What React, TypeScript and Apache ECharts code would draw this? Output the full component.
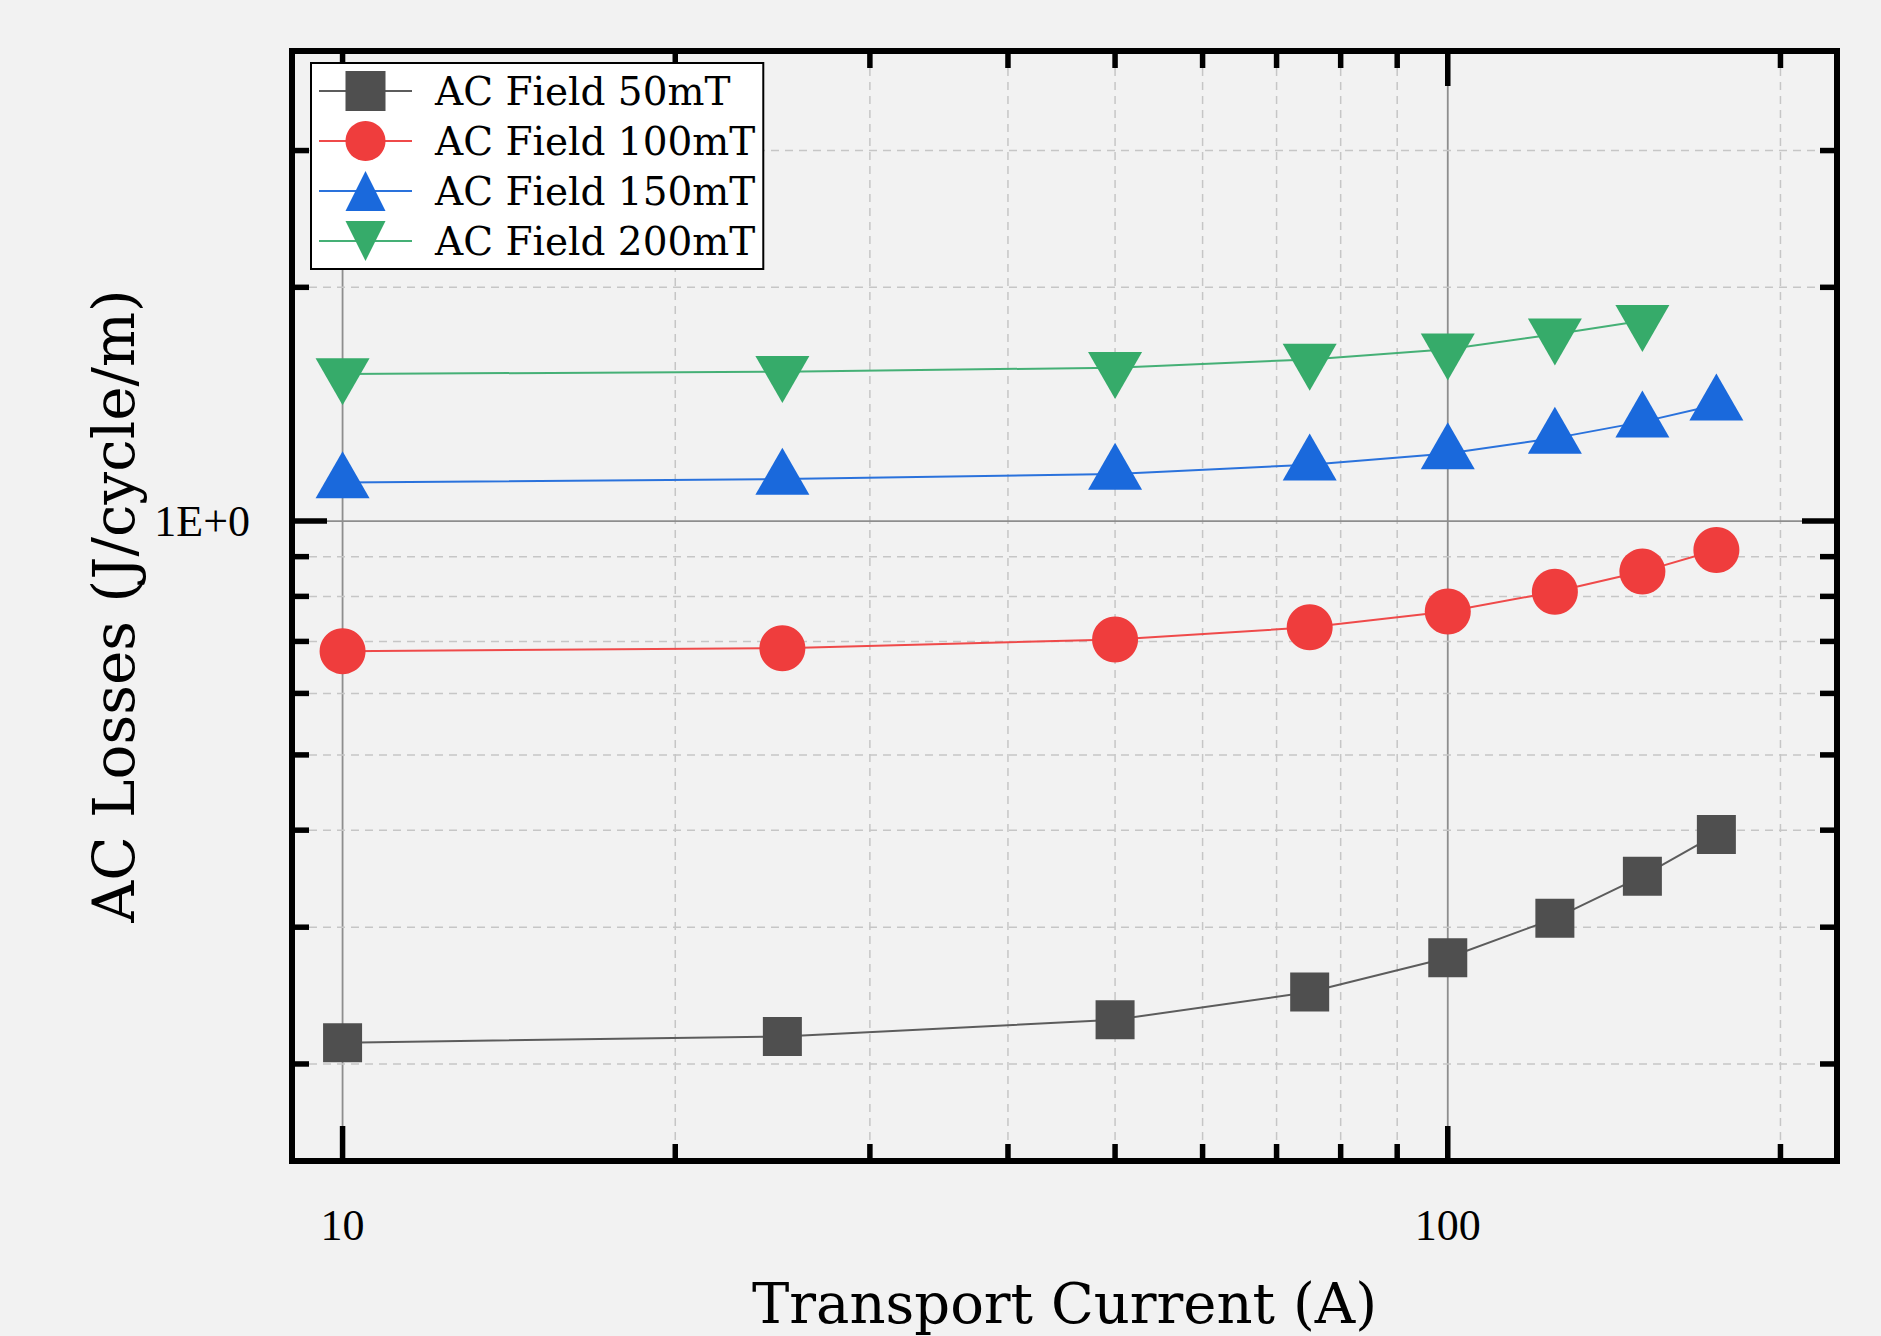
import React, { useEffect, useRef } from 'react';
import * as echarts from 'echarts';

// ---- data ----
const currents = [10, 25, 50, 75, 100, 125, 150, 175];
const loss50 = [0.213, 0.217, 0.228, 0.2475, 0.274, 0.308, 0.349, 0.395];
const loss100 = [0.68, 0.686, 0.704, 0.73, 0.765, 0.811, 0.861, 0.918];
const loss150 = [1.121, 1.133, 1.15, 1.182, 1.222, 1.279, 1.342, 1.412];
const currents200 = [10, 25, 50, 75, 100, 125, 150];
const loss200 = [1.547, 1.557, 1.576, 1.615, 1.665, 1.74, 1.811];
const seriesNames = ['AC Field 50mT', 'AC Field 100mT', 'AC Field 150mT', 'AC Field 200mT'];

const xMajorTicks = [10, 100];
const xMinorTicks = [20, 30, 40, 50, 60, 70, 80, 90, 200];
const yMajorTicks = [1];
const yMinorTicks = [0.2, 0.3, 0.4, 0.5, 0.6, 0.7, 0.8, 0.9, 2, 3];
const xRange = [9, 225];
const yRange = [0.15, 4.03];

const xTitle = 'Transport Current (A)';
const yTitle = 'AC Losses (J/cycle/m)';

const TITLE_FONT = 'DejaVu Serif';
const LABEL_FONT = 'Liberation Serif';

const isMajor = (v: number, list: number[]) => list.find((m) => Math.abs(v - m) / m < 1e-6);

export default function App() {
  const ref = useRef<HTMLDivElement>(null);

  useEffect(() => {
    if (!ref.current) return;
    const chart = echarts.init(ref.current, undefined, { renderer: 'svg' });

    const minorGrid = { stroke: '#c6c6c6', lineWidth: 1.5, lineDash: [8, 6] };
    const majorGrid = { stroke: '#8e8e8e', lineWidth: 1.8 };
    const tickStyle = { stroke: '#000', lineWidth: 5.5 };

    const xGridData = xMinorTicks.map((v) => [v, 1, 0]).concat(xMajorTicks.map((v) => [v, 1, 1]));
    const yGridData = yMinorTicks.map((v) => [10, v, 0]).concat(yMajorTicks.map((v) => [10, v, 1]));

    const option: any = {
      animation: false,
      backgroundColor: '#f2f2f2',
      grid: {
        left: 292,
        top: 51,
        width: 1545,
        height: 1112,
        show: true,
        borderColor: '#000',
        borderWidth: 6,
        backgroundColor: 'transparent',
      },
      legend: {
        data: seriesNames,
        orient: 'vertical',
        left: 311,
        top: 63,
        itemWidth: 93,
        itemHeight: 50,
        itemGap: 10,
        padding: [8, 8, 8, 7],
        backgroundColor: '#fff',
        borderColor: '#000',
        borderWidth: 2,
        selectedMode: false,
        textStyle: { fontFamily: TITLE_FONT, fontSize: 39, color: '#000', padding: [0, 0, 0, 18] },
      },
      xAxis: {
        type: 'log',
        logBase: 10,
        min: xRange[0],
        max: xRange[1],
        axisLine: { show: false },
        axisTick: { show: false },
        splitLine: { show: false },
        minorTick: { show: false },
        axisLabel: {
          margin: 42,
          fontFamily: LABEL_FONT,
          fontSize: 44,
          color: '#000',
          formatter: (v: number) => {
            const m = isMajor(v, xMajorTicks);
            return m ? String(m) : '';
          },
        },
        name: xTitle,
        nameLocation: 'middle',
        nameGap: 114,
        nameTextStyle: { fontFamily: TITLE_FONT, fontSize: 56, color: '#000' },
      },
      yAxis: {
        type: 'log',
        logBase: 10,
        min: yRange[0],
        max: yRange[1],
        axisLine: { show: false },
        axisTick: { show: false },
        splitLine: { show: false },
        minorTick: { show: false },
        axisLabel: {
          margin: 42,
          fontFamily: LABEL_FONT,
          fontSize: 44,
          color: '#000',
          formatter: (v: number) => {
            const m = isMajor(v, yMajorTicks);
            return m ? m.toExponential(0).toUpperCase() : '';
          },
        },
        name: yTitle,
        nameLocation: 'middle',
        nameGap: 136,
        nameTextStyle: { fontFamily: TITLE_FONT, fontSize: 58, color: '#000' },
      },
      series: [
        {
          type: 'custom',
          name: 'xgrid',
          silent: true,
          z: 1,
          data: xGridData,
          encode: { x: 0, y: 1 },
          renderItem: (params: any, api: any) => {
            const v = api.value(0);
            const major = api.value(2) === 1;
            const cs = params.coordSys;
            const px = api.coord([v, 1])[0];
            const top = cs.y;
            const bot = cs.y + cs.height;
            const len = major ? 35 : 17;
            return {
              type: 'group',
              children: [
                { type: 'line', shape: { x1: px, y1: top + 3, x2: px, y2: bot - 3 }, style: major ? majorGrid : minorGrid },
                { type: 'line', shape: { x1: px, y1: bot, x2: px, y2: bot - len }, style: tickStyle },
                { type: 'line', shape: { x1: px, y1: top, x2: px, y2: top + len }, style: tickStyle },
              ],
            };
          },
        },
        {
          type: 'custom',
          name: 'ygrid',
          silent: true,
          z: 1,
          data: yGridData,
          encode: { x: 0, y: 1 },
          renderItem: (params: any, api: any) => {
            const v = api.value(1);
            const major = api.value(2) === 1;
            const cs = params.coordSys;
            const py = api.coord([10, v])[1];
            const left = cs.x;
            const right = cs.x + cs.width;
            const len = major ? 35 : 17;
            return {
              type: 'group',
              children: [
                { type: 'line', shape: { x1: left + 3, y1: py, x2: right - 3, y2: py }, style: major ? majorGrid : minorGrid },
                { type: 'line', shape: { x1: left, y1: py, x2: left + len, y2: py }, style: tickStyle },
                { type: 'line', shape: { x1: right, y1: py, x2: right - len, y2: py }, style: tickStyle },
              ],
            };
          },
        },
        {
          name: seriesNames[0],
          type: 'line',
          z: 3,
          data: currents.map((c, i) => [c, loss50[i]]),
          symbol: 'rect',
          symbolSize: 39,
          itemStyle: { color: '#4f4f4f' },
          lineStyle: { color: '#5c5c5c', width: 2 },
        },
        {
          name: seriesNames[1],
          type: 'line',
          z: 3,
          data: currents.map((c, i) => [c, loss100[i]]),
          symbol: 'circle',
          symbolSize: 46,
          itemStyle: { color: '#ef3d3d' },
          lineStyle: { color: '#ef4a4a', width: 2 },
        },
        {
          name: seriesNames[2],
          type: 'line',
          z: 3,
          data: currents.map((c, i) => [c, loss150[i]]),
          symbol: 'triangle',
          symbolSize: [54, 47],
          symbolOffset: [0, -7.8],
          itemStyle: { color: '#1a69dc' },
          lineStyle: { color: '#2a72dc', width: 2 },
        },
        {
          name: seriesNames[3],
          type: 'line',
          z: 3,
          data: currents200.map((c, i) => [c, loss200[i]]),
          symbol: 'path://M0,0 L54,0 L27,47 Z',
          symbolSize: [54, 47],
          symbolOffset: [0, 7.8],
          itemStyle: { color: '#36ab6a' },
          lineStyle: { color: '#45b076', width: 2 },
        },
      ],
    };

    chart.setOption(option);
    return () => chart.dispose();
  }, []);

  return (
    <div
      ref={ref}
      style={{ position: 'fixed', left: 0, top: 0, width: 1881, height: 1336 }}
    />
  );
}
